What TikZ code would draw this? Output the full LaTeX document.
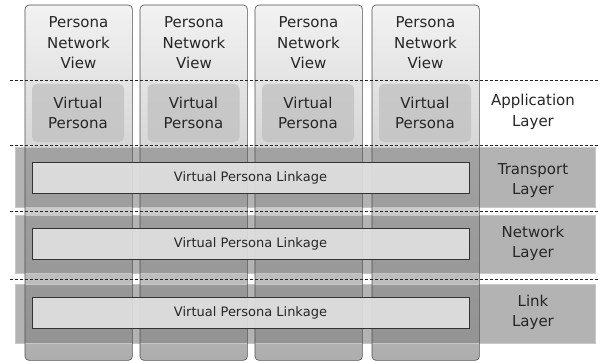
\documentclass[tikz,border=0pt]{standalone}
\usepackage{fontspec}
\setmainfont{DejaVu Sans}
\usepackage{tikz}
\usetikzlibrary{positioning}

\begin{document}
\begin{tikzpicture}[x=1pt,y=-1pt,
    column/.style={rounded corners=4pt, top color=black!5, middle color=black!14, bottom color=black!32, minimum width=107pt, minimum height=355pt, anchor=north west, inner sep=0pt},
    colline/.style={draw=black!70, line width=0.6pt, rounded corners=4pt},
    band/.style={fill=black!50, fill opacity=0.6, draw=black!22, line width=0.8pt, minimum width=580pt, anchor=north west, inner sep=0pt},
    linkage/.style={fill=black!12, fill opacity=0.92, text opacity=1, draw=black!80, line width=0.6pt, minimum width=437pt, minimum height=31pt, font=\fontsize{13}{14}\selectfont, text=black!85},
    vpersona/.style={fill=black!24, fill opacity=0.8, text opacity=1, rounded corners=5pt, minimum width=92pt, minimum height=58pt, align=center, font=\fontsize{15}{20.5}\selectfont, text=black!85},
    label/.style={align=center, font=\fontsize{15}{20.5}\selectfont, text=black!85},
    layerdash/.style={draw=black!85, line width=0.8pt, dash pattern=on 3pt off 2pt}]
\useasboundingbox (0,0) rectangle (600,361);

% persona columns
\foreach \n/\x in {1/25,2/140,3/255,4/372}
  \node[column] (col\n) at (\x,5) {};

% layer bands
\node[band, minimum height=60pt] (transport) at (15,147) {};
\node[band, minimum height=58pt] (network) at (15,215) {};
\node[band, minimum height=59pt] (link) at (15,284) {};

\foreach \n in {1,...,4}
  \draw[colline] (col\n.north west) rectangle (col\n.south east);

% linkages
\node[linkage] (lnktransport) at (250.5,177.5) {Virtual Persona Linkage};
\node[linkage] (lnknetwork) at (250.5,243.5) {Virtual Persona Linkage};
\node[linkage] (lnklink) at (250.5,312.5) {Virtual Persona Linkage};

% views and virtual personas
\foreach \n/\x in {1/78.5,2/194,3/308.5,4/425.5} {
  \node[label] (view\n) at (\x,43) {Persona\\Network\\View};
  \node[vpersona] (vp\n) at (\x-0.5,113) {Virtual\\Persona};
}

% layer names
\node[label] (app) at (533,112) {Application\\Layer};
\node[label] (trans) at (533,180.5) {Transport\\Layer};
\node[label] (net) at (533,243.5) {Network\\Layer};
\node[label] (lnk) at (533,312.5) {Link\\Layer};

% dashed layer borders
\foreach \y/\name in {80/da,145/db,211/dc,279/dd} {
  \coordinate (\name l) at (10,\y);
  \coordinate (\name r) at (600,\y);
  \draw[layerdash] (\name l) -- (\name r);
}
\end{tikzpicture}
\end{document}
